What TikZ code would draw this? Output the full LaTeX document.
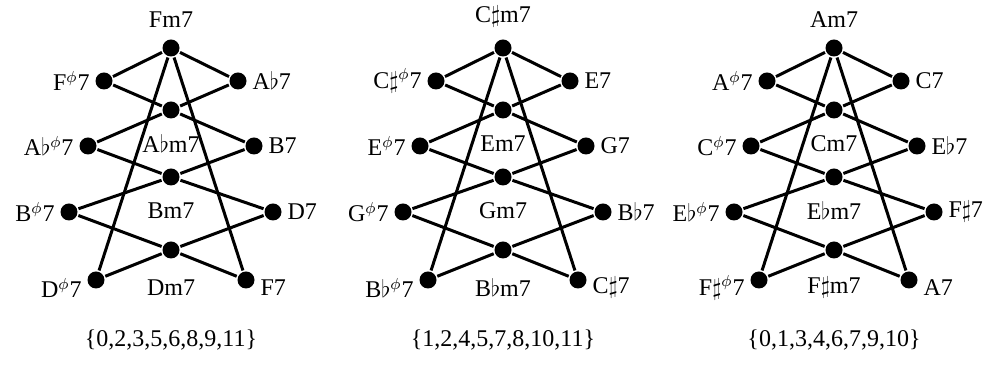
\documentclass[tikz,border=0pt]{standalone}
\usepackage{fontspec}
\setmainfont{Liberation Serif}
\tikzset{
  dot/.style={circle,fill=black,inner sep=0pt,minimum size=8.5pt},
  every label/.style={inner sep=1.5pt},
}
\newcommand{\hd}{\textsuperscript{$\phi$}}
\newcommand{\fl}{$\flat$}
\newcommand{\shp}{$\sharp$}

\begin{document}
\begin{tikzpicture}[x=0.5pt,y=-0.5pt,line width=1.5pt,font=\fontsize{12}{14}\selectfont]
\useasboundingbox (0,0) rectangle (986,367);

% first net
\begin{scope}[shift={(171,0)}]
\node at (0,48)     [dot,label={[label distance=3pt]above:Fm7}] (a-top) {};
\node at (-67,81)   [dot,label=left:F\hd7] (a-l1) {};
\node at (67,81)    [dot,label=right:A\fl7] (a-r1) {};
\node at (0,110)    [dot] (a-c1) {};
\node at (-83,146)  [dot,label=left:A\fl\hd7] (a-l2) {};
\node at (83,146)   [dot,label=right:B7] (a-r2) {};
\node at (0,177)    [dot] (a-c2) {};
\node at (-102,212) [dot,label=left:B\hd7] (a-l3) {};
\node at (102,212)  [dot,label=right:D7] (a-r3) {};
\node at (0,250)    [dot] (a-c3) {};
\node at (-75,280)  [dot,label={[yshift=-4pt]left:D\hd7}] (a-l4) {};
\node at (75,280)   [dot,label={[yshift=-4pt]right:F7}] (a-r4) {};
\node at (0,144) (a-m1) {A\fl m7};
\node at (0,211) (a-m2) {Bm7};
\node at (0,288) (a-m3) {Dm7};
\node at (0,340) (a-set) {\{0,2,3,5,6,8,9,11\}};
\end{scope}

% second net
\begin{scope}[shift={(503,0)}]
\node at (0,48)     [dot,label={[label distance=3pt]above:C\shp m7}] (b-top) {};
\node at (-67,81)   [dot,label=left:C\shp\hd7] (b-l1) {};
\node at (67,81)    [dot,label=right:E7] (b-r1) {};
\node at (0,110)    [dot] (b-c1) {};
\node at (-83,146)  [dot,label=left:E\hd7] (b-l2) {};
\node at (83,146)   [dot,label=right:G7] (b-r2) {};
\node at (0,177)    [dot] (b-c2) {};
\node at (-100,212) [dot,label=left:G\hd7] (b-l3) {};
\node at (100,212)  [dot,label=right:B\fl7] (b-r3) {};
\node at (0,250)    [dot] (b-c3) {};
\node at (-75,280)  [dot,label={[yshift=-4pt]left:B\fl\hd7}] (b-l4) {};
\node at (75,280)   [dot,label={[yshift=-4pt]right:C\shp7}] (b-r4) {};
\node at (0,144) (b-m1) {Em7};
\node at (0,211) (b-m2) {Gm7};
\node at (0,288) (b-m3) {B\fl m7};
\node at (0,340) (b-set) {\{1,2,4,5,7,8,10,11\}};
\end{scope}

% third net
\begin{scope}[shift={(834,0)}]
\node at (0,48)     [dot,label={[label distance=3pt]above:Am7}] (c-top) {};
\node at (-67,81)   [dot,label=left:A\hd7] (c-l1) {};
\node at (67,81)    [dot,label=right:C7] (c-r1) {};
\node at (0,110)    [dot] (c-c1) {};
\node at (-83,146)  [dot,label=left:C\hd7] (c-l2) {};
\node at (83,146)   [dot,label=right:E\fl7] (c-r2) {};
\node at (0,177)    [dot] (c-c2) {};
\node at (-100,212) [dot,label=left:E\fl\hd7] (c-l3) {};
\node at (100,212)  [dot,label=right:F\shp7] (c-r3) {};
\node at (0,250)    [dot] (c-c3) {};
\node at (-75,280)  [dot,label={[yshift=-4pt]left:F\shp\hd7}] (c-l4) {};
\node at (75,280)   [dot,label={[yshift=-4pt]right:A7}] (c-r4) {};
\node at (0,144) (c-m1) {Cm7};
\node at (0,211) (c-m2) {E\fl m7};
\node at (0,288) (c-m3) {F\shp m7};
\node at (0,340) (c-set) {\{0,1,3,4,6,7,9,10\}};
\end{scope}

% edges
\foreach \p in {a,b,c} {
  \draw (\p-l1) -- (\p-top) -- (\p-r1);
  \draw (\p-l1) -- (\p-c1) -- (\p-r2);
  \draw (\p-r1) -- (\p-c1) -- (\p-l2);
  \draw (\p-l2) -- (\p-c2) -- (\p-r3);
  \draw (\p-r2) -- (\p-c2) -- (\p-l3);
  \draw (\p-l3) -- (\p-c3) -- (\p-r4);
  \draw (\p-r3) -- (\p-c3) -- (\p-l4);
  \draw (\p-l4) -- (\p-top) -- (\p-r4);
}
\end{tikzpicture}
\end{document}
